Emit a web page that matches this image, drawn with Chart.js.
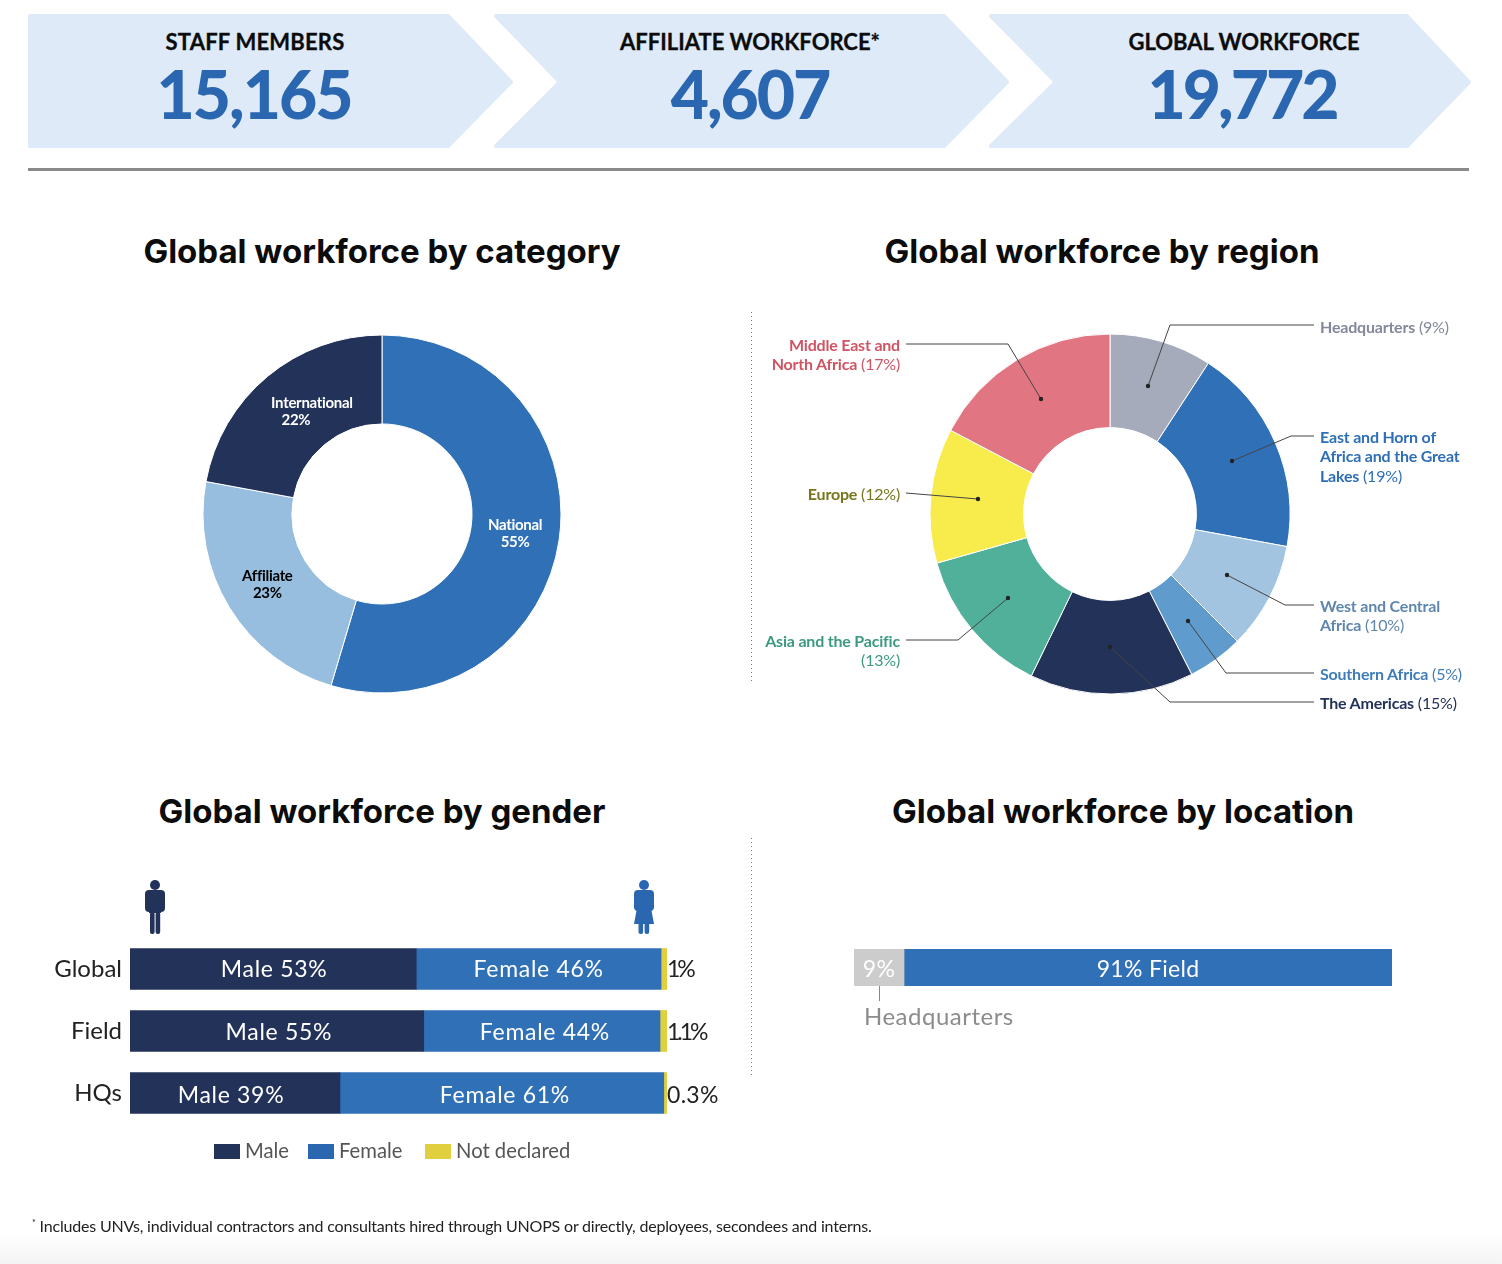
<!DOCTYPE html>
<html>
<head>
<meta charset="utf-8">
<title>Global workforce</title>
<script src="https://cdn.jsdelivr.net/npm/chart.js@4/dist/chart.umd.js"></script>
<style>
  html, body { margin: 0; padding: 0; background: #fff; }
  #page { position: relative; width: 1502px; height: 1264px; overflow: hidden; font-family: Lato, sans-serif; }
  #page canvas, #page svg, .t { position: absolute; }
  .t { white-space: nowrap; }
  .kpi-label { font-size: 22px; font-weight: 700; color: #0c0c0c; width: 400px; text-align: center; top: 28px; -webkit-text-stroke: 0.3px #0c0c0c; }
  .kpi-num { font-size: 66px; font-weight: 900; color: #2b67b0; width: 400px; text-align: center; top: 54px; letter-spacing: -2px; }
  .title { font-family: Inter, sans-serif; font-size: 33px; font-weight: 700; color: #0c0c0c; width: 700px; text-align: center; }
  .reg { font-size: 16px; line-height: 19.3px; letter-spacing: -0.2px; }
  .reg b { font-weight: 700; }
  .left { text-align: right; right: 602px; }
  .right { left: 1320px; }
  .sw { position: absolute; width: 26px; height: 15px; top: 1144px; }
</style>
</head>
<body>
<div id="page">
  <svg width="1502" height="1264" style="left:0;top:0">
    <defs><linearGradient id="fade" x1="0" y1="0" x2="0" y2="1"><stop offset="0" stop-color="#fff"/><stop offset="1" stop-color="#f4f4f4"/></linearGradient></defs>
    <rect x="0" y="1234" width="1502" height="30" fill="url(#fade)"/>
    <g fill="#deeaf8" stroke="#deeaf8" stroke-width="4" stroke-linejoin="round">
      <path d="M30 16H448L511 82L448 146H30Z"/>
      <path d="M496 16H944L1007 82L944 146H496L560 82Z"/>
      <path d="M991 16H1407L1469 82L1407 146H991L1056 82Z"/>
    </g>
    <rect x="28" y="168" width="1441" height="3" fill="#8a8a8a"/>
    <line x1="751.5" y1="312" x2="751.5" y2="684" stroke="#777" stroke-dasharray="1 3"/>
    <line x1="751.5" y1="838" x2="751.5" y2="1078" stroke="#777" stroke-dasharray="1 3"/>
    <!-- people icons -->
    <g fill="#223259">
      <circle cx="155" cy="885" r="5"/>
      <rect x="145" y="890" width="20" height="22" rx="4"/>
      <rect x="149" y="905" width="12" height="8"/>
      <rect x="150" y="912" width="4.6" height="22" rx="2"/>
      <rect x="155.6" y="912" width="4.6" height="22" rx="2"/>
    </g>
    <g fill="#2b67b0">
      <circle cx="644" cy="885" r="5"/>
      <rect x="634" y="890" width="20" height="21" rx="4"/>
      <path d="M637 908H651L654 924H634Z"/>
      <rect x="638.5" y="922" width="4.6" height="12" rx="2"/>
      <rect x="644.6" y="922" width="4.6" height="12" rx="2"/>
    </g>
  </svg>

  <div class="t kpi-label" style="left:55px;letter-spacing:0.2px">STAFF MEMBERS</div>
  <div class="t kpi-num" style="left:54px">15,165</div>
  <div class="t kpi-label" style="left:550px">AFFILIATE WORKFORCE*</div>
  <div class="t kpi-num" style="left:550px">4,607</div>
  <div class="t kpi-label" style="left:1044px">GLOBAL WORKFORCE</div>
  <div class="t kpi-num" style="left:1042px;letter-spacing:-3px">19,772</div>

  <div class="t title" style="left:32px;top:231px">Global workforce by category</div>
  <div class="t title" style="left:752px;top:231px">Global workforce by region</div>
  <div class="t title" style="left:32px;top:791px">Global workforce by gender</div>
  <div class="t title" style="left:773px;top:791px">Global workforce by location</div>

  <canvas id="categoryChart" width="400" height="400" style="left:182px;top:314px"></canvas>
  <canvas id="regionChart" width="400" height="400" style="left:910px;top:313.5px"></canvas>
  <canvas id="genderChart" width="700" height="186" style="left:30px;top:938px"></canvas>
  <canvas id="locationChart" width="538" height="37" style="left:854px;top:949px"></canvas>

  <svg id="leaders" width="1502" height="1264" style="left:0;top:0;pointer-events:none"></svg>

  <div id="regionLabels"></div>
  <div id="genderLegend"></div>

  <div class="t" style="left:864px;top:1001px;font-size:24px;color:#8c8c8c;letter-spacing:0.5px">Headquarters</div>
  <div class="t" style="left:32px;top:1216px;font-size:16px;color:#222;letter-spacing:-0.19px"><sup style="font-size:9px">*</sup> Includes UNVs, individual contractors and consultants hired through UNOPS or directly, deployees, secondees and interns.</div>
</div>

<script>
  const categoryNames = ['National', 'Affiliate', 'International'];
  const categoryValues = [54.6, 23.3, 22.1];
  const categoryPct = ['55%', '23%', '22%'];
  const categoryColors = ['#3070b7', '#97bedf', '#223259'];
  const categoryText = ['#fff', '#000', '#fff'];

  const regionNames = ['Headquarters', 'East and Horn of Africa and the Great Lakes', 'West and Central Africa', 'Southern Africa', 'The Americas', 'Asia and the Pacific', 'Europe', 'Middle East and North Africa'];
  const regionValues = [9.2, 18.7, 9.6, 5, 14.7, 13.4, 12.1, 17.3];
  const regionColors = ['#a6abbb', '#3070b7', '#a3c4e1', '#5f9bcd', '#223259', '#50b09a', '#f7ec4b', '#e17582'];

  const genderRows = ['Global', 'Field', 'HQs'];
  const maleValues = [53.3, 54.7, 39.1];
  const femaleValues = [45.6, 44, 60.3];
  const notDeclaredValues = [1.1, 1.3, 0.6];
  const maleLabels = ['Male 53%', 'Male 55%', 'Male 39%'];
  const femaleLabels = ['Female 46%', 'Female 44%', 'Female 61%'];
  const notDeclaredLabels = ['1%', '1.1%', '0.3%'];

  const locationNames = ['Headquarters', 'Field'];
  const locationValues = [9.3, 90.7];
  const locationLabels = ['9%', '91% Field'];

  // leader lines and label boxes for the region donut
  const regionLeaders = [
    '1148,386 1170,325 1314,325',
    '1232,461 1291,436 1314,436',
    '1227,575 1285,605 1314,605',
    '1188,621 1226,673 1314,673',
    '1110,647 1170,702 1314,702',
    '1008,598 958,640 906,640',
    '978,499 906,493',
    '1041,399 1008,344 906,344'
  ];
  const regionBoxes = [
    { cls: 'right', top: 317, color: '#83889a', html: '<b>Headquarters</b> (9%)' },
    { cls: 'right', top: 427, color: '#2f6fb7', html: '<b>East and Horn of<br>Africa and the Great<br>Lakes</b> (19%)' },
    { cls: 'right', top: 596, color: '#5f87ad', html: '<b>West and Central<br>Africa</b> (10%)' },
    { cls: 'right', top: 664, color: '#3f7db8', html: '<b>Southern Africa</b> (5%)' },
    { cls: 'right', top: 693, color: '#223259', html: '<b>The Americas</b> (15%)' },
    { cls: 'left', top: 631, color: '#3c9a80', html: '<b>Asia and the Pacific</b><br>(13%)' },
    { cls: 'left', top: 484, color: '#77761c', html: '<b>Europe</b> (12%)' },
    { cls: 'left', top: 335, color: '#cf5565', html: '<b>Middle East and<br>North Africa</b> (17%)' }
  ];

  Chart.defaults.font.family = 'Lato, sans-serif';
  Chart.defaults.animation = false;
  Chart.defaults.responsive = false;
  Chart.defaults.plugins.legend.display = false;
  Chart.defaults.plugins.tooltip.enabled = false;

  // names and percents on the category donut
  const categoryLabels = {
    id: 'categoryLabels',
    afterDatasetsDraw(chart) {
      const { ctx } = chart;
      ctx.save();
      ctx.textAlign = 'center';
      ctx.textBaseline = 'middle';
      ctx.letterSpacing = '-0.3px';
      ctx.font = '700 15px Lato';
      chart.getDatasetMeta(0).data.forEach((arc, i) => {
        const p = arc.tooltipPosition();
        const dy = i === 2 ? 1 : 0;
        ctx.fillStyle = categoryText[i];
        ctx.fillText(categoryNames[i], p.x + (i === 2 ? 16 : 0), p.y - 8 + dy);
        ctx.fillText(categoryPct[i], p.x, p.y + 9 + dy);
      });
      ctx.restore();
    }
  };

  new Chart(document.getElementById('categoryChart'), {
    type: 'doughnut',
    data: {
      labels: categoryNames,
      datasets: [{ data: categoryValues, backgroundColor: categoryColors, borderColor: '#fff', borderWidth: 1 }]
    },
    options: { radius: 179, cutout: '50.3%' },
    plugins: [categoryLabels]
  });

  new Chart(document.getElementById('regionChart'), {
    type: 'doughnut',
    data: {
      labels: regionNames,
      datasets: [{ data: regionValues, backgroundColor: regionColors, borderColor: '#fff', borderWidth: 1 }]
    },
    options: { radius: 180, cutout: '48%' }
  });

  // text inside the bars, and the not declared share just after them
  const maleNudge = [1, 2, -4];
  const femaleNudge = [0, 3, 3];
  const genderText = {
    id: 'genderText',
    afterDatasetsDraw(chart) {
      const { ctx } = chart;
      ctx.save();
      ctx.textBaseline = 'middle';
      ctx.font = '400 23px Lato';
      ctx.letterSpacing = '0.7px';
      [maleLabels, femaleLabels].forEach((labels, d) => {
        chart.getDatasetMeta(d).data.forEach((bar, i) => {
          ctx.textAlign = 'center';
          ctx.fillStyle = '#fff';
          const nudge = d === 0 ? maleNudge[i] : femaleNudge[i];
          ctx.fillText(labels[i], (bar.base + bar.x) / 2 + nudge, bar.y + 1 + i);
        });
      });
      chart.getDatasetMeta(2).data.forEach((bar, i) => {
        ctx.textAlign = 'left';
        ctx.fillStyle = '#222';
        ctx.letterSpacing = notDeclaredLabels[i].includes('1') ? '-3px' : '0.3px';
        ctx.fillText(notDeclaredLabels[i], chart.scales.x.right, bar.y + 1 + i);
      });
      ctx.restore();
    }
  };

  new Chart(document.getElementById('genderChart'), {
    type: 'bar',
    data: {
      labels: genderRows,
      datasets: [
        { label: 'Male', data: maleValues, backgroundColor: '#223259' },
        { label: 'Female', data: femaleValues, backgroundColor: '#3070b7' },
        { label: 'Not declared', data: notDeclaredValues, backgroundColor: '#e2cf3f' }
      ]
    },
    options: {
      indexAxis: 'y',
      layout: { padding: { right: 63 } },
      datasets: { bar: { barThickness: 41 } },
      scales: {
        x: { stacked: true, min: 0, max: 100, display: false },
        y: {
          stacked: true,
          // fixed axis width, and no extra room kept above and below the tick labels
          afterFit(s) { s.width = 100; s.paddingTop = 0; s.paddingBottom = 0; },
          grid: { display: false, drawTicks: false },
          border: { display: false },
          ticks: { padding: 8, color: '#222', font: { size: 24 } }
        }
      }
    },
    plugins: [genderText]
  });

  const locationText = {
    id: 'locationText',
    afterDatasetsDraw(chart) {
      const { ctx } = chart;
      ctx.save();
      ctx.textAlign = 'center';
      ctx.textBaseline = 'middle';
      ctx.fillStyle = '#fff';
      ctx.font = '400 23px Lato';
      ctx.letterSpacing = '0.3px';
      chart.data.datasets.forEach((ds, d) => {
        const bar = chart.getDatasetMeta(d).data[0];
        ctx.fillText(locationLabels[d], (bar.base + bar.x) / 2, bar.y + 2);
      });
      ctx.restore();
    }
  };

  new Chart(document.getElementById('locationChart'), {
    type: 'bar',
    data: {
      labels: ['Location'],
      datasets: [
        { label: locationNames[0], data: [locationValues[0]], backgroundColor: '#cccccc' },
        { label: locationNames[1], data: [locationValues[1]], backgroundColor: '#3070b7' }
      ]
    },
    options: {
      indexAxis: 'y',
      datasets: { bar: { barPercentage: 1, categoryPercentage: 1 } },
      scales: {
        x: { stacked: true, min: 0, max: 100, display: false },
        y: { stacked: true, display: false }
      }
    },
    plugins: [locationText]
  });

  // overlays
  const svg = document.getElementById('leaders');
  let marks = '<line x1="879.5" y1="986" x2="879.5" y2="1001" stroke="#888"/>';
  regionLeaders.forEach(pts => {
    const start = pts.split(' ')[0].split(',');
    marks += `<polyline points="${pts}" fill="none" stroke="#444" stroke-width="1"/>`;
    marks += `<circle cx="${start[0]}" cy="${start[1]}" r="2.2" fill="#222"/>`;
  });
  svg.innerHTML = marks;

  const labelsDiv = document.getElementById('regionLabels');
  regionBoxes.forEach(b => {
    const d = document.createElement('div');
    d.className = 't reg ' + b.cls;
    d.style.top = b.top + 'px';
    d.style.color = b.color;
    d.innerHTML = b.html;
    labelsDiv.appendChild(d);
  });

  const legendItems = [['Male', '#223259', 214], ['Female', '#2b67b0', 308], ['Not declared', '#e2cf3f', 425]];
  const legendDiv = document.getElementById('genderLegend');
  legendItems.forEach(([name, color, x]) => {
    const sw = document.createElement('div');
    sw.className = 'sw';
    sw.style.left = x + 'px';
    sw.style.background = color;
    legendDiv.appendChild(sw);
    const t = document.createElement('div');
    t.className = 't';
    t.textContent = name;
    t.style.cssText = `left:${x + 31}px;top:1136px;font-size:22px;color:#555;transform:scaleX(0.92);transform-origin:left`;
    legendDiv.appendChild(t);
  });
</script>
</body>
</html>
